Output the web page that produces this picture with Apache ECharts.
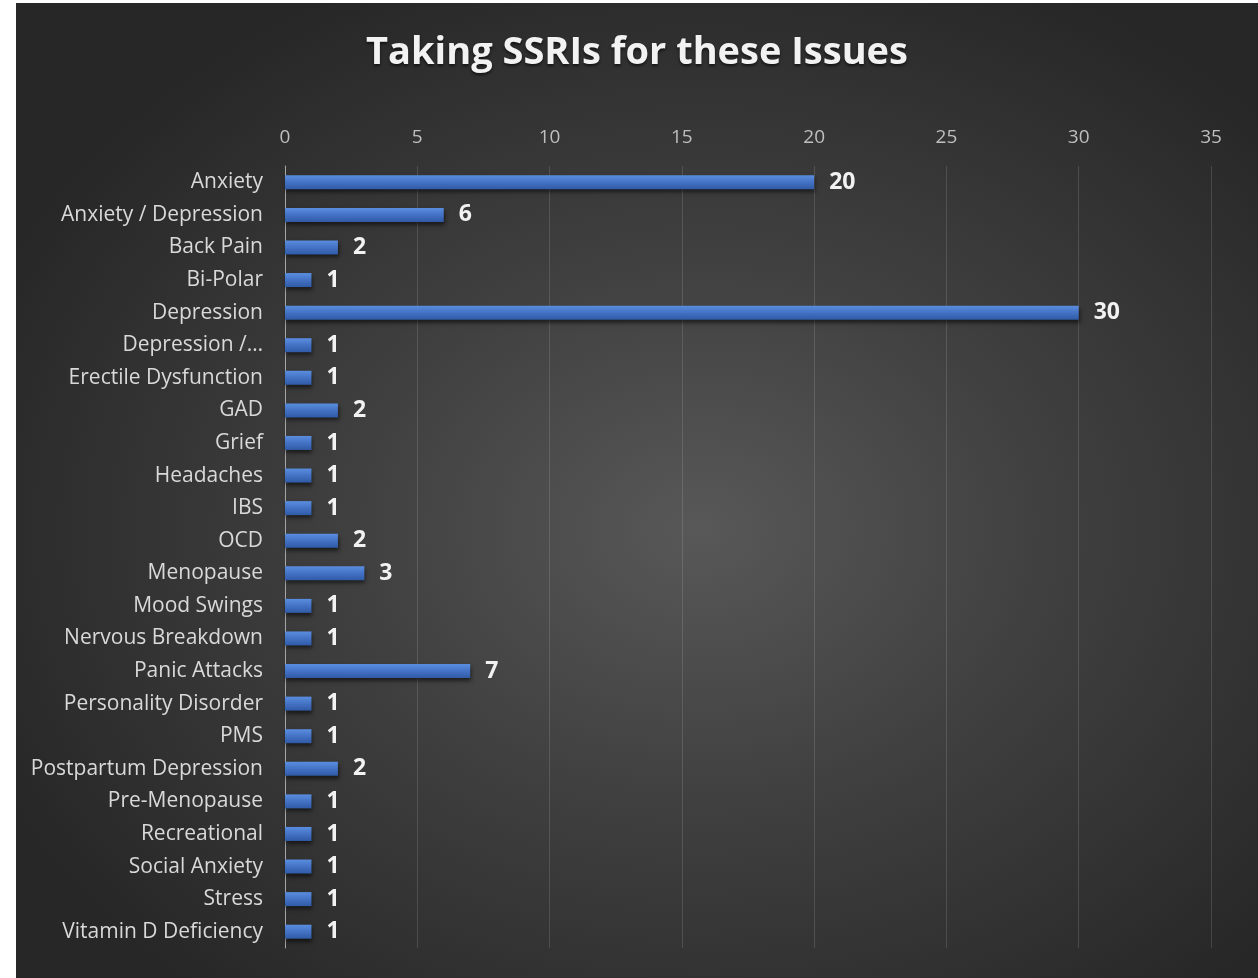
<!DOCTYPE html>
<html>
<head>
<meta charset="utf-8">
<script src="https://cdn.jsdelivr.net/npm/echarts@6/dist/echarts.min.js"></script>
<style>
  html, body { margin: 0; padding: 0; background: #ffffff; }
  #main {
    position: absolute; left: 16px; top: 3px; width: 1242px; height: 975px;
    background: radial-gradient(ellipse 62% 62% at 55% 54%, #585858 0%, #404040 45%, #272727 100%);
  }
</style>
</head>
<body>
<div id="main"></div>
<script>
// 数据
var categories = [
  "Anxiety", "Anxiety / Depression", "Back Pain", "Bi-Polar", "Depression",
  "Depression /…", "Erectile Dysfunction", "GAD", "Grief", "Headaches",
  "IBS", "OCD", "Menopause", "Mood Swings", "Nervous Breakdown",
  "Panic Attacks", "Personality Disorder", "PMS", "Postpartum Depression",
  "Pre-Menopause", "Recreational", "Social Anxiety", "Stress", "Vitamin D Deficiency"
];
var counts = [20, 6, 2, 1, 30, 1, 1, 2, 1, 1, 1, 2, 3, 1, 1, 7, 1, 1, 2, 1, 1, 1, 1, 1];
var axisMin = 0, axisMax = 35, axisStep = 5;

var chartDom = document.getElementById("main");
var myChart = echarts.init(chartDom);
var option = {
  backgroundColor: "transparent",
  title: {
    text: "Taking SSRIs for these Issues",
    left: "center",
    top: 26,
    textStyle: {
      color: "#f2f2f2",
      fontFamily: "Open Sans",
      fontWeight: "bold",
      fontSize: 38,
      textShadowColor: "rgba(0,0,0,0.6)",
      textShadowBlur: 3,
      textShadowOffsetY: 2,
    },
  },
  grid: {
    left: 269,
    right: 47,
    top: 163,
    bottom: 30,
    containLabel: false,
  },
  xAxis: {
    type: "value",
    position: "top",
    min: axisMin,
    max: axisMax,
    interval: axisStep,
    axisLine: { show: false },
    axisTick: { show: false },
    axisLabel: {
      color: "#bfbfbf",
      fontFamily: "Open Sans",
      fontSize: 19,
      margin: 19,
    },
    splitLine: {
      lineStyle: { color: "rgba(255,255,255,0.13)", width: 1 },
    },
  },
  yAxis: {
    type: "category",
    inverse: true,
    data: categories,
    axisLine: { show: true, lineStyle: { color: "#a6a6a6", width: 1 } },
    axisTick: { show: false },
    axisLabel: {
      color: "#d9d9d9",
      fontFamily: "Open Sans",
      fontSize: 21,
      margin: 22,
    },
    splitLine: { show: false },
  },
  series: [
    {
      type: "bar",
      data: counts,
      barWidth: 14,
      itemStyle: {
        color: new echarts.graphic.LinearGradient(0, 0, 0, 1, [
          { offset: 0, color: "#5a8ee0" },
          { offset: 0.5, color: "#4472c4" },
          { offset: 1, color: "#2f5aa6" },
        ]),
        shadowColor: "rgba(0,0,0,0.55)",
        shadowBlur: 4,
        shadowOffsetY: 3,
        shadowOffsetX: 1,
      },
      label: {
        show: true,
        position: "right",
        distance: 15,
        color: "#f2f2f2",
        fontFamily: "Open Sans",
        fontWeight: "bold",
        fontSize: 23,
      },
    },
  ],
};

myChart.setOption(option);
window.addEventListener("resize", function () {
  myChart.resize();
});
</script>
</body>
</html>
